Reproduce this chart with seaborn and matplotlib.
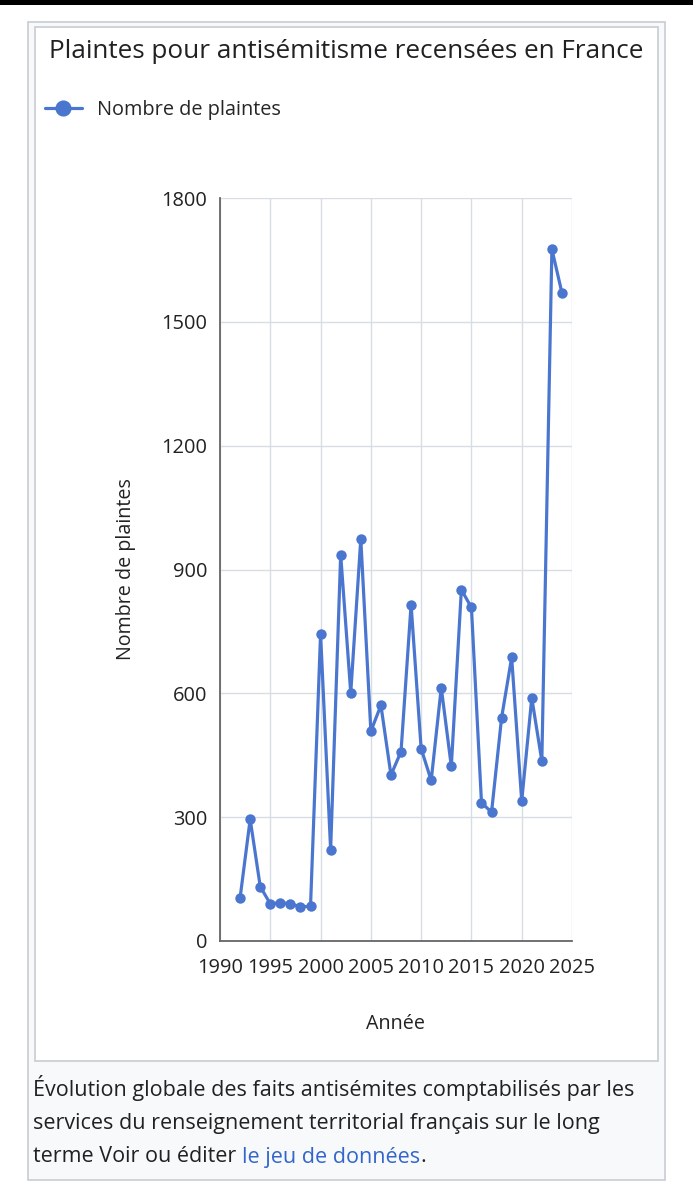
import matplotlib
matplotlib.use("Agg")
import matplotlib.pyplot as plt
from matplotlib.patches import Rectangle
import pandas as pd
import seaborn as sns

# data
annees = [1992, 1993, 1994, 1995, 1996, 1997, 1998, 1999, 2000, 2001,
          2002, 2003, 2004, 2005, 2006, 2007, 2008, 2009, 2010, 2011,
          2012, 2013, 2014, 2015, 2016, 2017, 2018, 2019, 2020, 2021,
          2022, 2023, 2024]
plaintes = [105, 295, 132, 90, 93, 90, 83, 84, 744, 221,
            936, 601, 974, 508, 571, 402, 459, 815, 466, 389,
            614, 423, 851, 808, 335, 312, 541, 687, 339, 589,
            436, 1676, 1570]
y_ticks = [0, 300, 600, 900, 1200, 1500, 1800]
x_ticks = [1990, 1995, 2000, 2005, 2010, 2015, 2020, 2025]

df = pd.DataFrame({"Année": annees, "Nombre de plaintes": plaintes})

sns.set_style("white")
plt.rcParams["font.family"] = ["Open Sans", "DejaVu Sans"]

W, H = 693, 1200
fig = plt.figure(figsize=(W / 100, H / 100), dpi=100)

# page frame
fig.patches.append(Rectangle((0, 1 - 5 / H), 1, 5 / H, transform=fig.transFigure,
                             facecolor="black", edgecolor="none", zorder=-10))
fig.patches.append(Rectangle((28 / W, 1 - 1180 / H), 637 / W, 1158 / H,
                             transform=fig.transFigure, facecolor="#f8f9fa",
                             edgecolor="#c8ccd1", linewidth=1.2, zorder=-10))
fig.patches.append(Rectangle((35 / W, 1 - 1061 / H), 623 / W, 1034 / H,
                             transform=fig.transFigure, facecolor="white",
                             edgecolor="#c8ccd1", linewidth=1.2, zorder=-9))

ax = fig.add_axes([220 / W, 1 - 941 / H, 352 / W, 743 / H])
ax.set_facecolor("none")
sns.lineplot(data=df, x="Année", y="Nombre de plaintes", ax=ax, color="#4a76d0",
             marker="o", markersize=7.5, markeredgewidth=0, linewidth=2.3,
             label="Nombre de plaintes", zorder=3)

ax.set_xlim(1990, 2025)
ax.set_ylim(0, 1800)
ax.set_xticks(x_ticks)
ax.set_yticks(y_ticks)
ax.grid(True, color="#d8dce3", linewidth=1)
for s in ["top", "right"]:
    ax.spines[s].set_visible(False)
for s in ["left", "bottom"]:
    ax.spines[s].set_color("#666666")
    ax.spines[s].set_linewidth(1.3)
ax.tick_params(axis="both", length=6, width=1.3, color="#666666",
               labelsize=14.4, labelcolor="#222222", pad=3, direction="out")
ax.tick_params(axis="x", pad=6)
ax.set_xlabel("Année", fontsize=14.2, color="#222222", labelpad=26)
ax.set_ylabel("Nombre de plaintes", fontsize=14.2, color="#222222", labelpad=18)

leg = ax.legend(loc="upper left", bbox_to_anchor=(45 / W, 1 - 100 / H),
                bbox_transform=fig.transFigure, frameon=False, fontsize=14.3,
                borderpad=0, borderaxespad=0,
                handlelength=1.85, handletextpad=0.75, markerscale=1.55)

fig.text(346 / W, 1 - 51 / H, "Plaintes pour antisémitisme recensées en France",
         ha="center", va="center", fontsize=18.8, color="#202122")

cap_size = 15.5
fig.text(33 / W, 1 - 1088 / H, "Évolution globale des faits antisémites comptabilisés par les",
         ha="left", va="center", fontsize=cap_size, color="#202122")
fig.text(33 / W, 1 - 1123 / H, "services du renseignement territorial français sur le long",
         ha="left", va="center", fontsize=cap_size, color="#202122")
t1 = fig.text(33 / W, 1 - 1157 / H, "terme Voir ou éditer ",
              ha="left", va="center", fontsize=cap_size, color="#202122")
fig.canvas.draw()
bb = t1.get_window_extent()
t2 = fig.text(bb.x1 / fig.dpi / fig.get_figwidth(), 1 - 1157 / H, "le jeu de données",
              ha="left", va="center", fontsize=cap_size, color="#3366cc")
fig.canvas.draw()
bb2 = t2.get_window_extent()
fig.text(bb2.x1 / fig.dpi / fig.get_figwidth(), 1 - 1157 / H, ".", ha="left",
         va="center", fontsize=cap_size, color="#202122")

fig.savefig("out.png", dpi=100)
